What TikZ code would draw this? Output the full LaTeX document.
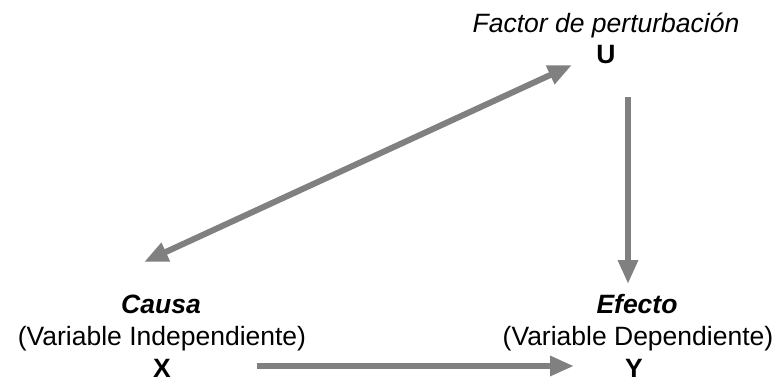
\documentclass[tikz,border=0pt]{standalone}
\usepackage{fontspec}
\setmainfont{Liberation Sans}
\usetikzlibrary{arrows.meta}
\begin{document}
\begin{tikzpicture}[x=1pt,y=-1pt,
  lbl/.style={anchor=base,inner sep=0pt,font=\fontsize{26.5}{32}\selectfont},
  conn/.style={draw={rgb,255:red,128;green,128;blue,128},line width=6pt,
    -{Triangle[length=24pt,width=19pt]}},
  biconn/.style={conn,{Triangle[length=24pt,width=19pt]}-{Triangle[length=24pt,width=19pt]}}]
\useasboundingbox (0,0) rectangle (779,381);
\node[lbl,font=\fontsize{26.5}{32}\selectfont\itshape] (fac) at (606,32) {Factor de perturbación};
\node[lbl,font=\fontsize{26.5}{32}\selectfont\bfseries] (U) at (606,63) {U};
\node[lbl,font=\fontsize{26.5}{32}\selectfont\bfseries\itshape] (causa) at (161,313) {Causa};
\node[lbl] (vi) at (162,345) {(Variable Independiente)};
\node[lbl,font=\fontsize{26.5}{32}\selectfont\bfseries] (X) at (162,377) {X};
\node[lbl,font=\fontsize{26.5}{32}\selectfont\bfseries\itshape] (efecto) at (637,313) {Efecto};
\node[lbl] (vd) at (638,345) {(Variable Dependiente)};
\node[lbl,font=\fontsize{26.5}{32}\selectfont\bfseries] (Y) at (634,377) {Y};
\coordinate (xu) at (144,262);
\coordinate (ux) at (572,65);
\coordinate (ut) at (628,97);
\coordinate (yt) at (628,284);
\coordinate (xs) at (257,366);
\coordinate (ye) at (574,366);
\draw[biconn] (xu) -- (ux);
\draw[conn] (ut) -- (yt);
\draw[conn] (xs) -- (ye);
\end{tikzpicture}
\end{document}
